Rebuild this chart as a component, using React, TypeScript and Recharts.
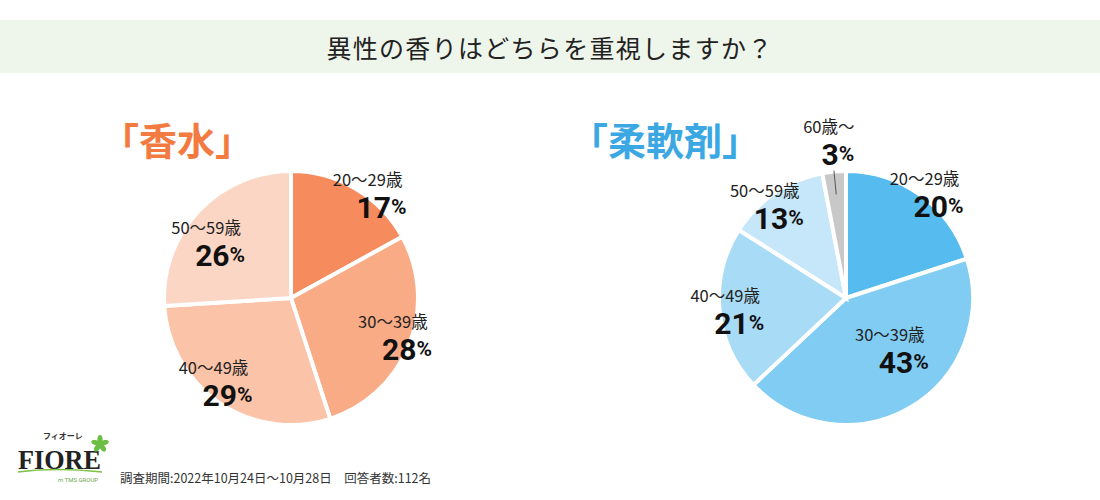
import { PieChart, Pie, Cell } from 'recharts'

// 香水
const perfumeAges = ['20～29歳', '30～39歳', '40～49歳', '50～59歳']
const perfumeValues = [17, 28, 29, 26]
const perfumeColors = ['#F68C5E', '#F9AB86', '#FBC3A8', '#FCD6C5']

// 柔軟剤
const softenerAges = ['20～29歳', '30～39歳', '40～49歳', '50～59歳', '60歳～']
const softenerValues = [20, 43, 21, 13, 3]
const softenerColors = ['#56BBEF', '#80CCF3', '#A8DBF6', '#C5E7F9', '#C8C8C8']

const title = '異性の香りはどちらを重視しますか？'
const footnote = '調査期間:2022年10月24日～10月28日　回答者数:112名'

// label placement: distance from centre (share of radius) and clockwise nudge in degrees
const perfumeLabelRadius = [1.055, 0.905, 0.86, 0.76]
const perfumeLabelShift = [8, -3, 6, -7]
const softenerLabelRadius = [1.07, 0.56, 0.9, 0.945, 1.245]
const softenerLabelShift = [3, -15, 0, -4, 1]

const RAD = Math.PI / 180
const JP = '"Noto Sans CJK JP", "Noto Sans", sans-serif'
const NUM = 'Roboto, "Noto Sans", sans-serif'

const SIZE = 400
const R = 127

function makeLabel(radii: number[], shifts: number[]) {
  return (props: any) => {
    const { cx, cy, midAngle, outerRadius, index, payload } = props
    const r = outerRadius * radii[index]
    const a = midAngle - shifts[index]
    const x = cx + r * Math.cos(-a * RAD)
    const y = cy + r * Math.sin(-a * RAD)
    const small = payload.value < 5
    const lx = (rr: number) => cx + rr * Math.cos(-midAngle * RAD)
    const ly = (rr: number) => cy + rr * Math.sin(-midAngle * RAD)
    return (
      <g>
        {small && (
          <line
            x1={lx(outerRadius + 1)}
            y1={ly(outerRadius + 1)}
            x2={lx(outerRadius - 23)}
            y2={ly(outerRadius - 23)}
            stroke="#555"
            strokeWidth={1}
          />
        )}
        <text
          x={small ? x - 5 : x - 7}
          y={y - 14}
          textAnchor="middle"
          dominantBaseline="central"
          fontFamily={JP}
          fontSize={16.5}
          fill="#222"
        >
          {payload.age}
        </text>
        <text
          x={small ? x + 4 : x + 7}
          y={y + 14}
          textAnchor="middle"
          dominantBaseline="central"
          fontFamily={NUM}
          fontWeight={700}
          fill="#111"
        >
          <tspan fontSize={30}>{payload.value}</tspan>
          <tspan fontSize={21}>%</tspan>
        </text>
      </g>
    )
  }
}

function AgePie({
  ages,
  values,
  colors,
  radii,
  shifts,
}: {
  ages: string[]
  values: number[]
  colors: string[]
  radii: number[]
  shifts: number[]
}) {
  const data = ages.map((age, i) => ({ age, value: values[i] }))
  return (
    <PieChart width={SIZE} height={SIZE} style={{ overflow: 'visible' }}>
      <Pie
        data={data}
        dataKey="value"
        cx="50%"
        cy="50%"
        outerRadius={R}
        startAngle={90}
        endAngle={-270}
        stroke="#fff"
        strokeWidth={4}
        label={makeLabel(radii, shifts)}
        labelLine={false}
        isAnimationActive={false}
      >
        {data.map((_, i) => (
          <Cell key={`cell-${i}`} fill={colors[i % colors.length]} />
        ))}
      </Pie>
    </PieChart>
  )
}

function Logo() {
  return (
    <svg width={120} height={70} style={{ position: 'absolute', left: 10, top: 425 }}>
      <text x={33} y={14} fontFamily={JP} fontSize={8} fontWeight={700} fill="#333">
        フィオーレ
      </text>
      <text
        x={8}
        y={44}
        fontFamily='"Liberation Serif", "DejaVu Serif", serif'
        fontWeight={700}
        fontSize={28}
        fill="#222"
        textLength={83}
        lengthAdjust="spacingAndGlyphs"
      >
        FIORE
      </text>
      <path d="M8 47 Q 45 42 92 47" fill="none" stroke="#7CC144" strokeWidth={1.5} />
      <g transform="translate(90 19)" fill="#6DBE45">
        {[0, 72, 144, 216, 288].map((a) => (
          <ellipse key={a} cx={0} cy={-4.5} rx={2.6} ry={4.5} transform={`rotate(${a})`} />
        ))}
      </g>
      <text x={48} y={57} fontFamily={NUM} fontSize={6} fill="#6DA84A">
        m TMS GROUP
      </text>
    </svg>
  )
}

export default function App() {
  return (
    <div
      style={{
        position: 'absolute',
        left: 0,
        top: 0,
        width: 1100,
        height: 500,
        background: '#fff',
        overflow: 'hidden',
        fontFamily: JP,
      }}
    >
      <div
        style={{
          position: 'absolute',
          left: 0,
          top: 20,
          width: 1100,
          height: 53,
          background: '#EEF5EA',
          display: 'flex',
          alignItems: 'center',
          justifyContent: 'center',
          fontSize: 25,
          color: '#222',
          letterSpacing: 1.3,
        }}
      >
        {title}
      </div>

      <div
        style={{
          position: 'absolute',
          left: 101,
          top: 114,
          fontSize: 38,
          fontWeight: 700,
          color: '#F37B41',
          lineHeight: '50px',
        }}
      >
        「香水」
      </div>
      <div
        style={{
          position: 'absolute',
          left: 570,
          top: 114,
          fontSize: 38,
          fontWeight: 700,
          color: '#3BA8E4',
          lineHeight: '50px',
        }}
      >
        「柔軟剤」
      </div>

      <div style={{ position: 'absolute', left: 291 - SIZE / 2, top: 298 - SIZE / 2 }}>
        <AgePie
          ages={perfumeAges}
          values={perfumeValues}
          colors={perfumeColors}
          radii={perfumeLabelRadius}
          shifts={perfumeLabelShift}
        />
      </div>
      <div style={{ position: 'absolute', left: 846 - SIZE / 2, top: 298 - SIZE / 2 }}>
        <AgePie
          ages={softenerAges}
          values={softenerValues}
          colors={softenerColors}
          radii={softenerLabelRadius}
          shifts={softenerLabelShift}
        />
      </div>

      <Logo />
      <div
        style={{
          position: 'absolute',
          left: 120,
          top: 470,
          fontSize: 12.5,
          color: '#333',
          lineHeight: '16px',
          whiteSpace: 'pre',
        }}
      >
        {footnote}
      </div>
    </div>
  )
}
